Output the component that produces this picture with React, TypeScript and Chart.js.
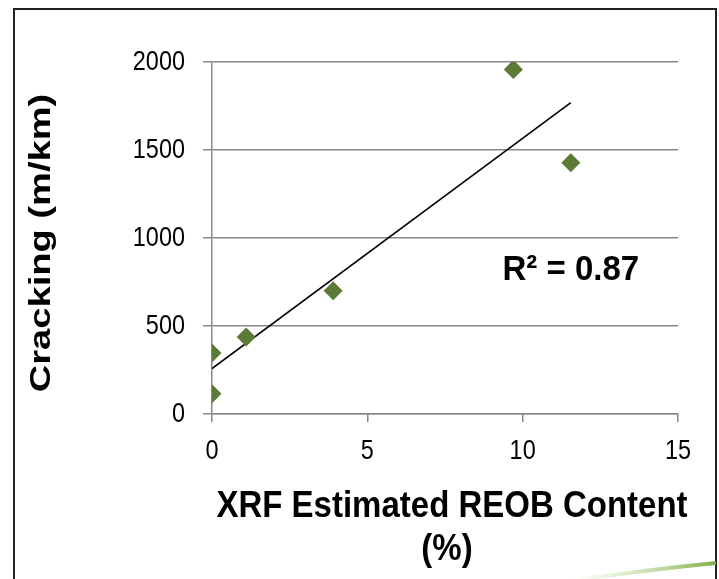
import React, { useEffect, useRef } from 'react';
import { Chart, registerables } from 'chart.js';

Chart.register(...registerables);

// ---- Data ----
const reobContent = [0, 0, 1.1, 3.9, 9.7, 11.55];
const cracking = [115, 347, 437, 700, 1958, 1427];
const xTickValues = [0, 5, 10, 15];
const yTickValues = [0, 500, 1000, 1500, 2000];
const yTitle = 'Cracking (m/km)';
const xTitle = ['XRF Estimated REOB Content', '(%)'];
const r2Label = 'R² = 0.87';
const r2Anchor = [9.35, 820];

const FONT = '"Liberation Sans", Arial, Helvetica, sans-serif';
const GREEN = '#5a7a35';
const GRAY = '#888888';

function regression(xs: number[], ys: number[]) {
  const n = xs.length;
  const mx = xs.reduce((a, b) => a + b, 0) / n;
  const my = ys.reduce((a, b) => a + b, 0) / n;
  let sxy = 0;
  let sxx = 0;
  for (let i = 0; i < n; i++) {
    sxy += (xs[i] - mx) * (ys[i] - my);
    sxx += (xs[i] - mx) * (xs[i] - mx);
  }
  const slope = sxy / sxx;
  return { slope, intercept: my - slope * mx };
}

function stretchedText(ctx: any, text: string, x: number, y: number, font: string, align: string, sx: number, sy: number, rot = 0) {
  ctx.save();
  ctx.translate(x, y);
  if (rot) ctx.rotate(rot);
  ctx.scale(sx, sy);
  ctx.font = font;
  ctx.fillStyle = '#000000';
  ctx.textAlign = align;
  ctx.textBaseline = 'middle';
  ctx.fillText(text, 0, 0);
  ctx.restore();
}

const framePlugin = {
  id: 'frame',
  beforeDraw(chart: any) {
    const { ctx, width, height } = chart;
    ctx.save();
    ctx.fillStyle = '#ffffff';
    ctx.fillRect(0, 0, width, height);
    ctx.restore();
  },
  afterDraw(chart: any) {
    const { ctx, scales, chartArea } = chart;
    const xs = scales.x;
    const ys = scales.y;
    ctx.save();
    // outer frame
    ctx.strokeStyle = '#222222';
    ctx.lineWidth = 2;
    ctx.strokeRect(14, 9, 702, 640);

    // tick labels (from the library's scales)
    const tickFont = `23px ${FONT}`;
    ys.ticks.forEach((t: any) => {
      stretchedText(ctx, String(t.value), chartArea.left - 27, ys.getPixelForValue(t.value), tickFont, 'right', 1.02, 1.2);
    });
    xs.ticks.forEach((t: any) => {
      stretchedText(ctx, String(t.value), xs.getPixelForValue(t.value), chartArea.bottom + 37, tickFont, 'center', 1.02, 1.2);
    });

    // axis titles
    const titleFont = `bold 33px ${FONT}`;
    const cx = (chartArea.left + chartArea.right) / 2;
    stretchedText(ctx, xTitle[0], cx + 7, 507, titleFont, 'center', 1, 1.12);
    stretchedText(ctx, xTitle[1], cx + 2, 550, titleFont, 'center', 1, 1.12);
    stretchedText(ctx, yTitle, 42, (chartArea.top + chartArea.bottom) / 2 + 5, `bold 30px ${FONT}`, 'center', 1.27, 1, -Math.PI / 2);

    // R² label
    stretchedText(ctx, r2Label, xs.getPixelForValue(r2Anchor[0]), ys.getPixelForValue(r2Anchor[1]), `bold 33px ${FONT}`, 'left', 1, 1.08);

    // decorative green swoosh
    const grad = ctx.createLinearGradient(570, 0, 716, 0);
    grad.addColorStop(0, 'rgba(190,220,150,0)');
    grad.addColorStop(1, 'rgba(120,170,60,0.95)');
    ctx.strokeStyle = grad;
    ctx.lineWidth = 4;
    ctx.beginPath();
    ctx.moveTo(570, 581);
    ctx.quadraticCurveTo(645, 570, 716, 563);
    ctx.stroke();
    ctx.restore();
  },
};

export default function App() {
  const ref = useRef<HTMLCanvasElement | null>(null);

  useEffect(() => {
    if (!ref.current) return;
    const { slope, intercept } = regression(reobContent, cracking);
    const xMin = Math.min(...reobContent);
    const xMax = Math.max(...reobContent);
    const chart = new Chart(ref.current, {
      type: 'scatter',
      data: {
        datasets: [
          {
            label: 'Cracking',
            data: reobContent.map((x, i) => ({ x, y: cracking[i] })),
            pointStyle: 'rectRot',
            pointRadius: 9.5,
            backgroundColor: GREEN,
            borderColor: GREEN,
            borderWidth: 0,
          },
          {
            type: 'line',
            label: 'Trend',
            data: [
              { x: xMin, y: intercept + slope * xMin },
              { x: xMax, y: intercept + slope * xMax },
            ],
            borderColor: '#000000',
            borderWidth: 1.6,
            pointRadius: 0,
            fill: false,
          } as any,
        ],
      },
      options: {
        animation: false,
        responsive: false,
        devicePixelRatio: 1,
        layout: { padding: { left: 0, top: 62, right: 41, bottom: 0 } },
        plugins: { legend: { display: false }, tooltip: { enabled: false } },
        scales: {
          x: {
            type: 'linear',
            min: 0,
            max: 15,
            afterFit: (s: any) => { s.height = 165; },
            afterBuildTicks: (s: any) => { s.ticks = xTickValues.map((v) => ({ value: v })); },
            grid: { drawOnChartArea: false, drawTicks: true, tickLength: 8, tickColor: GRAY, lineWidth: 1.5 },
            border: { display: true, color: GRAY, width: 1.5 },
            ticks: { display: false },
            title: { display: false },
          },
          y: {
            type: 'linear',
            min: 0,
            max: 2000,
            afterFit: (s: any) => { s.width = 212; },
            afterBuildTicks: (s: any) => { s.ticks = yTickValues.map((v) => ({ value: v })); },
            grid: { color: GRAY, lineWidth: 1.5, drawTicks: true, tickLength: 9, tickColor: GRAY },
            border: { display: true, color: GRAY, width: 1.5 },
            ticks: { display: false },
            title: { display: false },
          },
        },
      },
      plugins: [framePlugin],
    });
    return () => chart.destroy();
  }, []);

  return (
    <div style={{ position: 'absolute', left: 0, top: 0, width: 719, height: 579, background: '#fff' }}>
      <canvas ref={ref} width={719} height={579} style={{ width: 719, height: 579, display: 'block' }} />
    </div>
  );
}
